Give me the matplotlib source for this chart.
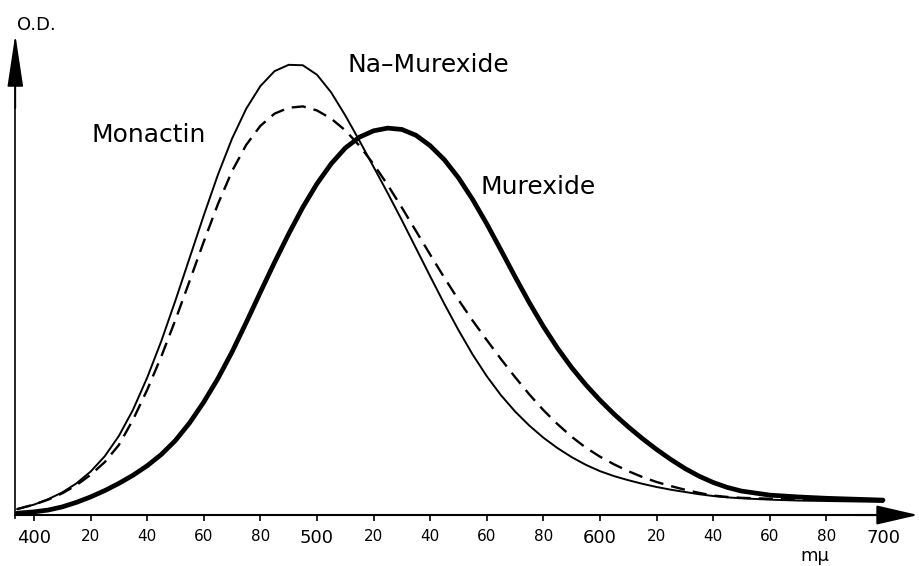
import matplotlib
matplotlib.use("Agg")
import matplotlib.pyplot as plt

# Absorption spectra (optical density, arbitrary units) against wavelength in mμ
wavelength = [394, 400, 405, 410, 415, 420, 425, 430, 435, 440, 445, 450, 455, 460,
              465, 470, 475, 480, 485, 490, 495, 500, 505, 510, 515, 520, 525, 530,
              535, 540, 545, 550, 555, 560, 565, 570, 575, 580, 585, 590, 595, 600,
              605, 610, 615, 620, 625, 630, 635, 640, 645, 650, 660, 670, 680, 690,
              700]

monactin = [0.013, 0.023, 0.035, 0.050, 0.070, 0.096, 0.130, 0.175, 0.233, 0.304,
            0.385, 0.475, 0.569, 0.663, 0.753, 0.833, 0.899, 0.949, 0.982, 0.996,
            0.995, 0.974, 0.935, 0.884, 0.828, 0.770, 0.712, 0.652, 0.590, 0.528,
            0.467, 0.409, 0.355, 0.307, 0.265, 0.229, 0.198, 0.171, 0.148, 0.128,
            0.111, 0.097, 0.086, 0.077, 0.069, 0.062, 0.056, 0.051, 0.046, 0.042,
            0.039, 0.037, 0.034, 0.032, 0.031, 0.030, 0.029]

na_murexide = [0.013, 0.023, 0.034, 0.048, 0.066, 0.089, 0.117, 0.155, 0.211, 0.277,
               0.351, 0.432, 0.518, 0.605, 0.688, 0.761, 0.819, 0.861, 0.888, 0.901,
               0.904, 0.895, 0.877, 0.851, 0.817, 0.776, 0.730, 0.680, 0.628, 0.576,
               0.525, 0.476, 0.430, 0.387, 0.345, 0.305, 0.267, 0.232, 0.201, 0.173,
               0.149, 0.129, 0.112, 0.097, 0.084, 0.073, 0.064, 0.056, 0.049, 0.043,
               0.040, 0.038, 0.036, 0.035, 0.034, 0.033, 0.033]

murexide = [0.004, 0.007, 0.011, 0.018, 0.028, 0.040, 0.054, 0.070, 0.088, 0.109,
            0.134, 0.165, 0.204, 0.250, 0.302, 0.361, 0.426, 0.493, 0.559, 0.622,
            0.681, 0.733, 0.777, 0.812, 0.836, 0.850, 0.856, 0.853, 0.840, 0.817,
            0.786, 0.746, 0.698, 0.644, 0.586, 0.527, 0.470, 0.417, 0.369, 0.326,
            0.288, 0.254, 0.223, 0.195, 0.169, 0.145, 0.123, 0.103, 0.086, 0.072,
            0.061, 0.053, 0.044, 0.040, 0.037, 0.035, 0.033]

tick_positions = [400, 420, 440, 460, 480, 500, 520, 540, 560, 580,
                  600, 620, 640, 660, 680, 700]
tick_labels = ["400", "20", "40", "60", "80", "500", "20", "40", "60", "80",
               "600", "20", "40", "60", "80", "700"]

plt.rcParams["font.family"] = ["DejaVu Sans"]

fig = plt.figure(figsize=(9.2, 5.66), dpi=100)
ax = fig.add_axes([0, 0, 1, 1])
ax.set_xlim(387.99, 713.07)
ax.set_ylim(-0.1128, 1.1394)

ink = "black"
x0 = 393.4          # position of the ordinate axis
x_tip = 712.4       # abscissa arrow tip
y_tip = 1.063       # ordinate arrow tip

# curves
ax.plot(wavelength, monactin, color=ink, lw=1.4, solid_capstyle="round",
        solid_joinstyle="round")
ax.plot(wavelength, na_murexide, color=ink, lw=1.7, linestyle=(0, (6, 3.4)))
ax.plot(wavelength, murexide, color=ink, lw=3.4, solid_capstyle="round",
        solid_joinstyle="round")

# axes drawn as arrows
for side in ("top", "right"):
    ax.spines[side].set_visible(False)
ax.spines["bottom"].set_position(("data", 0))
ax.spines["bottom"].set_bounds(x0, 705)
ax.spines["bottom"].set_linewidth(1.5)
ax.spines["left"].set_position(("data", x0))
ax.spines["left"].set_bounds(-0.006, 1.0)
ax.spines["left"].set_linewidth(1.2)

ax.annotate("", xy=(x_tip, 0), xytext=(690, 0),
            arrowprops=dict(arrowstyle="-|>,head_length=2.6,head_width=0.6",
                            mutation_scale=10, lw=1.5, color=ink,
                            shrinkA=0, shrinkB=0))
ax.annotate("", xy=(x0, y_tip), xytext=(x0, 0.9),
            arrowprops=dict(arrowstyle="-|>,head_length=3.3,head_width=0.5",
                            mutation_scale=10, lw=1.2, color=ink,
                            shrinkA=0, shrinkB=0))

# wavelength ticks
ax.set_yticks([])
ax.set_xticks(tick_positions, tick_labels)
ax.tick_params(axis="x", direction="out", length=4, width=1.2, pad=6,
               colors=ink)
for lbl in ax.get_xticklabels():
    lbl.set_fontsize(13 if lbl.get_text().endswith("00") else 11)

# labels
ax.text(x0 + 0.5, 1.085, "O.D.", fontsize=13, ha="left", va="center")
ax.text(676, -0.09, "mμ", fontsize=13, ha="center", va="center")
ax.text(440.5, 0.841, "Monactin", fontsize=18, ha="center", va="center")
ax.text(539.5, 0.996, "Na–Murexide", fontsize=18, ha="center", va="center")
ax.text(578, 0.726, "Murexide", fontsize=18, ha="center", va="center")

fig.savefig("out.png", dpi=100, facecolor="white")
